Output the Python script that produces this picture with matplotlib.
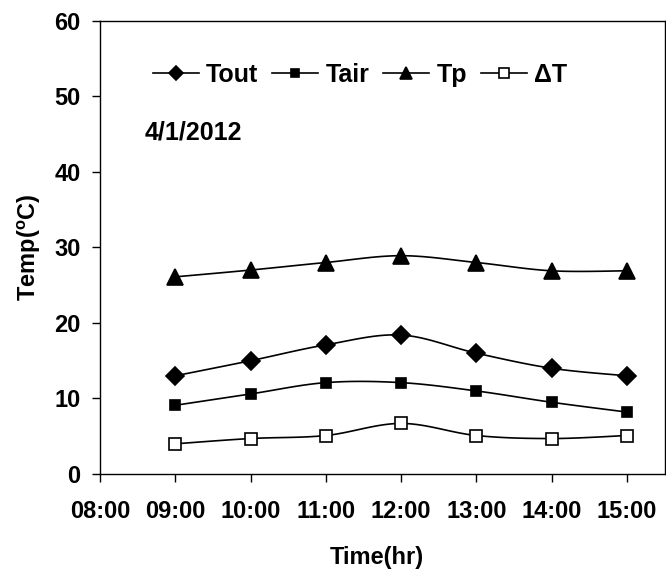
import numpy as np
import matplotlib
matplotlib.use("Agg")
import matplotlib.pyplot as plt
from matplotlib.lines import Line2D

plt.rcParams['font.family'] = ['Liberation Sans', 'DejaVu Sans']
plt.rcParams['font.weight'] = 'bold'
plt.rcParams['mathtext.fontset'] = 'custom'
plt.rcParams['mathtext.rm'] = 'Liberation Sans:bold'
plt.rcParams['mathtext.bf'] = 'Liberation Sans:bold'
plt.rcParams['mathtext.it'] = 'Liberation Sans:bold'

tick_labels = ["08:00", "09:00", "10:00", "11:00", "12:00", "13:00", "14:00", "15:00"]
hours = [1, 2, 3, 4, 5, 6, 7]  # 09:00 .. 15:00 (08:00 = 0)
tout = [13.0, 15.0, 17.1, 18.4, 16.0, 14.0, 13.0]
tair = [9.1, 10.6, 12.1, 12.1, 11.0, 9.5, 8.2]
tp = [26.1, 27.0, 28.0, 28.9, 28.0, 26.9, 26.9]
dT = [4.0, 4.7, 5.1, 6.7, 5.1, 4.7, 5.1]


def smooth(x, y, n=20):
    x = np.asarray(x, float); y = np.asarray(y, float)
    P = np.column_stack([x, y])
    out = []
    for i in range(len(P) - 1):
        p0 = P[i - 1] if i > 0 else P[i]
        p1 = P[i]; p2 = P[i + 1]
        p3 = P[i + 2] if i + 2 < len(P) else P[i + 1]
        c1 = p1 + (p2 - p0) / 6.0
        c2 = p2 - (p3 - p1) / 6.0
        t = np.linspace(0, 1, n)[:, None]
        seg = ((1 - t) ** 3) * p1 + 3 * ((1 - t) ** 2) * t * c1 + 3 * (1 - t) * t ** 2 * c2 + t ** 3 * p2
        out.append(seg if i == 0 else seg[1:])
    s = np.vstack(out)
    return s[:, 0], s[:, 1]


fig = plt.figure(figsize=(6.66, 5.76), dpi=100)
ax = fig.add_axes([0.150, 0.177, 0.848, 0.787])

series = [
    (tout, 'D', 'k', 9, 'Tout'),
    (tair, 's', 'k', 7, 'Tair'),
    (tp, '^', 'k', 11, 'Tp'),
    (dT, 's', 'white', 9, 'ΔT'),
]
handles = []
for ys, m, fc, ms, lab in series:
    sx, sy = smooth(hours, ys)
    ax.plot(sx, sy, color='k', lw=1.2, zorder=2)
    ax.plot(hours, ys, linestyle='none', marker=m, markersize=ms,
            markerfacecolor=fc, markeredgecolor='k', markeredgewidth=1.2, zorder=3)
    handles.append(Line2D([], [], color='k', lw=1.2, marker=m,
                          markersize=ms * 0.8, markerfacecolor=fc,
                          markeredgecolor='k', markeredgewidth=1.2, label=lab))

ax.set_xlim(0, 7.5)
ax.set_ylim(0, 60)
ax.set_xticks(range(8))
ax.set_xticklabels(tick_labels)
ax.set_yticks(range(0, 61, 10))
ax.tick_params(axis='both', direction='out', length=6, width=1, labelsize=17)
ax.tick_params(axis='y', pad=8)
ax.tick_params(axis='x', pad=13)
for sp in ax.spines.values():
    sp.set_linewidth(1)
    sp.set_color('k')
for lab in ax.get_xticklabels() + ax.get_yticklabels():
    lab.set_fontweight('bold')

ax.set_xlabel('Time(hr)', fontsize=17, fontweight='bold')
ax.xaxis.set_label_coords(0.49, -0.158)
ax.set_ylabel(r'Temp($^{\mathbf{o}}$C)', fontsize=17, fontweight='bold')
ax.yaxis.set_label_coords(-0.100, 0.5)

ax.legend(handles=handles, loc='center left', bbox_to_anchor=(0.094, 0.881),
          ncol=4, frameon=False, handlelength=1.85, borderpad=0, borderaxespad=0,
          handletextpad=0.28, columnspacing=0.55, prop={'weight': 'bold', 'size': 18})

ax.text(0.080, 0.753, '4/1/2012', transform=ax.transAxes, fontsize=18,
        fontweight='bold', va='center', ha='left')

fig.savefig('out.png', dpi=100)
